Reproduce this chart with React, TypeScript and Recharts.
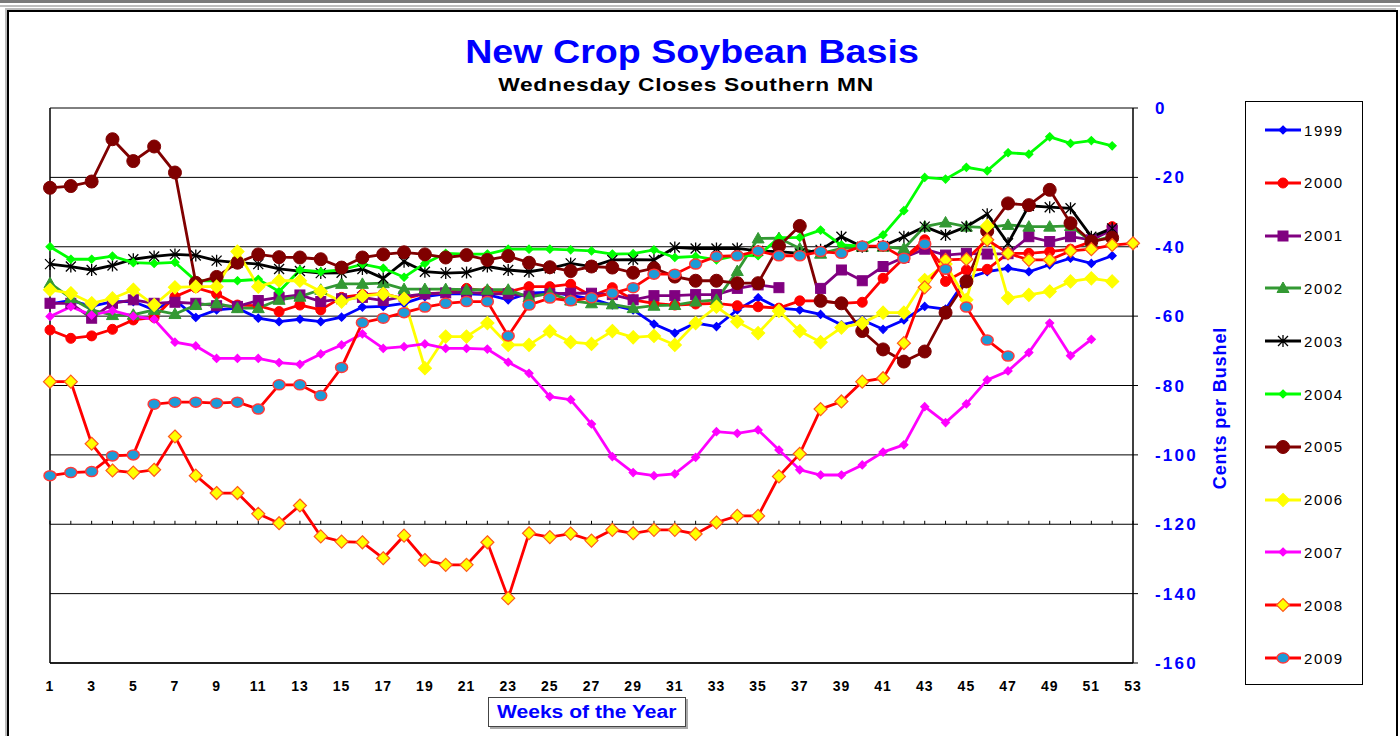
import React from "react"
import { LineChart, Line, XAxis, YAxis, CartesianGrid, ReferenceLine } from "recharts"

// weeks of the year (x categories)
const weeks = [
  1, 2, 3, 4, 5, 6, 7, 8, 9, 10, 11, 12, 13, 14, 15, 16, 17, 18, 19, 20, 21, 22, 23, 24, 25, 26,
  27, 28, 29, 30, 31, 32, 33, 34, 35, 36, 37, 38, 39, 40, 41, 42, 43, 44, 45, 46, 47, 48, 49, 50, 51, 52, 53,
]
const xTicks = [1, 3, 5, 7, 9, 11, 13, 15, 17, 19, 21, 23, 25, 27, 29, 31, 33, 35, 37, 39, 41, 43, 45, 47, 49, 51, 53]
const yTicks = [0, -20, -40, -60, -80, -100, -120, -140, -160]

// basis, cents per bushel, one value per week
const y1999 = [-56.5, -55.5, -57.2, -55.8, -55.8, -58.2, -55.3, -60.4, -58.2, -57.7, -60.6, -61.6, -60.9, -61.6, -60.3, -57.4, -57.2, -56.3, -54.4, -53.6, -53.6, -53.8, -55.3, -53.4, -53.1, -54, -55, -56.8, -58.2, -62.3, -64.9, -62, -63, -58.2, -54.7, -57.7, -58.2, -59.5, -62.5, -61.1, -63.8, -61.1, -57.2, -58, -49.1, -47.2, -46.2, -47.2, -45.2, -43.3, -44.8, -42.6, null]
const y2000 = [-64, -66.4, -65.7, -63.8, -61.1, -60.4, -54.4, -51.8, -53.6, -56.8, -57, -58.7, -56.8, -58.2, -54.6, -53.8, -53.5, -55, -53.5, -53.3, -52, -52.8, -53, -51.5, -51.5, -50.8, -54.2, -51.8, -55.3, -56.3, -56.8, -56.5, -56.3, -57, -57.3, -57.7, -55.6, -55.6, -56.3, -56, -49.1, -43.3, -38, -50, -46.7, -46.5, -41.9, -41.9, -41.4, -40.7, -38.5, -34.2, null]
const y2001 = [-56.3, -56.3, -60.6, -56.3, -55.3, -56.3, -56, -56.3, -57, -57.2, -55.5, -54.6, -53.9, -55.8, -55, -54.6, -55.5, -54.3, -53.6, -53.3, -53.1, -53.6, -53.6, -54.2, -53.6, -53.4, -53.4, -53.8, -55.3, -54.1, -54.1, -53.8, -53.8, -52, -51, -51.8, null, -52, -46.7, -49.8, -45.7, -43.1, -40.7, -42.4, -41.9, -42.1, -42, -37.1, -38.5, -37.1, -38, -35.2, null]
const y2002 = [-50.5, -54.8, -58.2, -59.7, -59.6, -58.2, -59.4, -56.8, -56.3, -57.7, -57.7, -55.3, -54.4, -52.4, -50.7, -50.7, -50.5, -52.2, -52.2, -52.2, -52.4, -52.4, -52.4, -54.6, -53.4, -55.5, -56.3, -56.6, -57.7, -57, -56.8, -55.8, -55.3, -47, -37.6, -37.5, -40.5, -42, -40.5, -40, -40, -40.5, -34.2, -33, -34.2, -34.5, -33.7, -34.2, -34.2, -34, -38.5, -37, null]
const y2003 = [-45, -45.7, -46.7, -45.4, -43.6, -42.8, -42.2, -42.5, -44, -44.6, -45, -46.4, -47, -47.6, -47.5, -46.4, -49.1, -44.3, -47.2, -47.6, -47.4, -45.7, -46.7, -47.2, -46.2, -44.8, -45.7, -43.8, -43.7, -43.8, -40.2, -40.5, -40.5, -40.5, -41.2, -41.4, -41.9, -40.9, -37.1, -40, -39.8, -37.1, -34.2, -36.6, -34.2, -30.6, -39, -28.2, -28.6, -28.9, -37.1, -34.7, null]
const y2004 = [-40, -43.6, -43.6, -42.7, -44.6, -44.8, -44.5, -49.8, -49.8, -49.8, -49.4, -52.9, -46.7, -47.2, -46.7, -45, -46.2, -48.8, -44.8, -41.9, -42.1, -42.1, -40.7, -40.7, -40.7, -40.9, -41.2, -42.1, -42, -40.9, -43.1, -42.8, -43.8, -42.5, -42.6, -37.4, -37.3, -35.2, -39.5, -39.8, -36.6, -29.6, -20, -20.5, -17.1, -18.1, -12.9, -13.3, -8.3, -10.2, -9.4, -10.9, null]
const y2005 = [-23, -22.5, -21.2, -9, -15.3, -11.1, -18.6, -50.4, -48.7, -44.6, -42.2, -43, -43.1, -43.6, -46, -43.1, -42.2, -41.6, -42.2, -43.1, -42.4, -43.8, -42.7, -44.6, -45.9, -47, -45.7, -46, -47.5, -46.2, -48.6, -49.8, -49.8, -50.5, -50.5, -39.8, -34, -55.6, -56.3, -64.3, -69.6, -73.1, -70.2, -59, -50, -35.5, -27.5, -28, -23.6, -33.2, -38.5, -37.4, null]
const y2006 = [-52.4, -53.4, -56.3, -54.9, -52.4, -56.8, -51.7, -51.5, -51.5, -41.4, -51.5, -49.8, -49.8, -52.9, -55.8, -54.2, -53.6, -55, -75, -65.9, -65.9, -62, -68.3, -68.3, -64.4, -67.5, -68, -64.3, -66.1, -65.7, -68.3, -62, -57.3, -61.6, -64.9, -58.5, -64.3, -67.5, -63.3, -62, -59, -59, -49.6, -45, -55.3, -34, -54.8, -53.9, -52.9, -50, -49.1, -50, null]
const y2007 = [-60.1, -57.3, -59.7, -58.4, -60, -60.9, -67.5, -68.6, -72.2, -72.2, -72.2, -73.4, -73.9, -70.9, -68.3, -65.1, -69.3, -68.8, -68, -69.3, -69.3, -69.5, -73.3, -76.5, -83.2, -84.1, -91.1, -100.5, -105.1, -106, -105.5, -100.7, -93.3, -93.8, -92.8, -98.6, -104.3, -105.8, -105.8, -102.9, -99.2, -97.1, -86.1, -90.7, -85.3, -78.4, -75.8, -70.5, -62, -71.4, -66.7, null, null]
const y2008 = [-78.9, -78.9, -96.8, -104.5, -105.1, -104.3, -94.7, -106, -111, -111, -117, -119.7, -114.6, -123.5, -125, -125.2, -129.8, -123.3, -130.3, -131.7, -131.7, -125.2, -141.3, -122.6, -123.7, -122.7, -124.7, -121.6, -122.6, -121.6, -121.6, -122.8, -119.5, -117.6, -117.6, -106.2, -99.7, -86.8, -84.6, -78.9, -77.9, -67.8, -51.7, -43.8, -43.6, -38, -41.9, -43.8, -43.8, -41.2, -40.7, -39.5, -39]
const y2009 = [-106, -105.1, -104.8, -100.3, -100, -85.4, -84.8, -84.8, -85.1, -84.8, -86.8, -79.8, -79.8, -82.9, -74.8, -61.9, -60.6, -59, -57.4, -56.3, -55.8, -55.8, -65.7, -56.8, -54.8, -55.6, -54.7, -53.4, -51.8, -47.9, -47.9, -45, -42.8, -42.6, -41.2, -42.6, -42.6, -41.4, -41.9, -39.8, -39.8, -43.3, -39.2, -46.5, -57.4, -66.9, -71.5, null, null, null, null, null, null]

type Marker = "diamond" | "circle" | "square" | "triangle" | "star" | "ellipse"

interface Series {
  name: string
  values: (number | null)[]
  color: string
  marker: Marker
  size: number
  fill: string
  edge: string
}

const series: Series[] = [
  { name: "1999", values: y1999, color: "#0000FF", marker: "diamond", size: 4, fill: "#0000FF", edge: "#0000FF" },
  { name: "2000", values: y2000, color: "#FF0000", marker: "circle", size: 5, fill: "#FF0000", edge: "#FF0000" },
  { name: "2001", values: y2001, color: "#800080", marker: "square", size: 5, fill: "#800080", edge: "#800080" },
  { name: "2002", values: y2002, color: "#339933", marker: "triangle", size: 6, fill: "#339933", edge: "#339933" },
  { name: "2003", values: y2003, color: "#000000", marker: "star", size: 5, fill: "none", edge: "#000000" },
  { name: "2004", values: y2004, color: "#00FF00", marker: "diamond", size: 4, fill: "#00FF00", edge: "#00FF00" },
  { name: "2005", values: y2005, color: "#800000", marker: "circle", size: 6.5, fill: "#800000", edge: "#800000" },
  { name: "2006", values: y2006, color: "#FFFF00", marker: "diamond", size: 6.5, fill: "#FFFF00", edge: "#FFFF00" },
  { name: "2007", values: y2007, color: "#FF00FF", marker: "diamond", size: 4, fill: "#FF00FF", edge: "#FF00FF" },
  { name: "2008", values: y2008, color: "#FF0000", marker: "diamond", size: 6.5, fill: "#FFFF00", edge: "#FF5a1a" },
  { name: "2009", values: y2009, color: "#FF0000", marker: "ellipse", size: 6, fill: "#1E9BD7", edge: "#FF3a3a" },
]

const data = weeks.map((w, i) => {
  const row: Record<string, number | null> = { week: w }
  series.forEach((s) => {
    row["y" + s.name] = s.values[i] ?? null
  })
  return row
})

const FONT = "'Liberation Sans', Arial, sans-serif"

function shape(kind: Marker, cx: number, cy: number, r: number, fill: string, edge: string) {
  switch (kind) {
    case "diamond":
      return <path d={`M${cx},${cy - r}L${cx + r},${cy}L${cx},${cy + r}L${cx - r},${cy}Z`} fill={fill} stroke={edge} strokeWidth={1.2} />
    case "circle":
      return <circle cx={cx} cy={cy} r={r} fill={fill} stroke={edge} strokeWidth={1} />
    case "ellipse":
      return <ellipse cx={cx} cy={cy} rx={r} ry={r - 1} fill={fill} stroke={edge} strokeWidth={1.5} />
    case "square":
      return <rect x={cx - r} y={cy - r} width={r * 2} height={r * 2} fill={fill} stroke={edge} />
    case "triangle":
      return <path d={`M${cx},${cy - r}L${cx + r},${cy + r * 0.75}L${cx - r},${cy + r * 0.75}Z`} fill={fill} stroke={edge} />
    case "star":
      return (
        <path
          d={`M${cx - r},${cy - r}L${cx + r},${cy + r}M${cx - r},${cy + r}L${cx + r},${cy - r}M${cx},${cy - r - 1}L${cx},${cy + r + 1}`}
          stroke={edge}
          strokeWidth={1.3}
          fill="none"
        />
      )
  }
}

function makeDot(s: Series) {
  return (p: any) => {
    const key = `dot-${s.name}-${p.index}`
    if (p.value == null || p.cx == null || p.cy == null) return <g key={key} />
    return <g key={key}>{shape(s.marker, p.cx, p.cy, s.size, s.fill, s.edge)}</g>
  }
}

function LegendBox() {
  return (
    <div
      style={{
        position: "absolute",
        left: 1245,
        top: 101,
        width: 116,
        height: 582,
        border: "1px solid #000",
        background: "#fff",
      }}
    >
      {series.map((s, i) => (
        <div
          key={s.name}
          style={{ position: "absolute", left: 17, top: 19 + i * 52.8, height: 18, display: "flex", alignItems: "center" }}
        >
          <svg width={40} height={18}>
            <line x1={2} y1={9} x2={38} y2={9} stroke={s.color} strokeWidth={3} />
            {shape(s.marker, 20, 9, s.size, s.fill, s.edge)}
          </svg>
          <span style={{ fontFamily: FONT, fontSize: 15, color: "#000", letterSpacing: 1.6, marginLeft: 1 }}>{s.name}</span>
        </div>
      ))}
    </div>
  )
}

export default function App() {
  return (
    <div style={{ position: "absolute", left: 0, top: 0, width: 1400, height: 736, overflow: "hidden", background: "#fff" }}>
      <div style={{ position: "absolute", left: 0, top: 0, width: 1400, height: 3, background: "#7a7a7a" }} />
      <div style={{ position: "absolute", left: 0, top: 5, width: 1400, height: 2, background: "#bdbdbd" }} />
      <div
        style={{
          position: "absolute",
          left: 7,
          top: 10,
          width: 1387,
          height: 740,
          border: "2px solid #000",
          boxShadow: "-2px -2px 0 #bbb",
        }}
      />

      <div
        style={{
          position: "absolute",
          left: 0,
          width: 1384,
          top: 33,
          textAlign: "center",
          fontFamily: FONT,
          fontWeight: 700,
          fontSize: 33,
          color: "#0000FF",
          transform: "scaleX(1.14)",
          transformOrigin: "692px 0",
        }}
      >
        New Crop Soybean Basis
      </div>
      <div
        style={{
          position: "absolute",
          left: 0,
          width: 1372,
          top: 74,
          textAlign: "center",
          fontFamily: FONT,
          fontWeight: 700,
          fontSize: 19,
          color: "#000",
          letterSpacing: 0.6,
          transform: "scaleX(1.2)",
          transformOrigin: "686px 0",
        }}
      >
        Wednesday Closes Southern MN
      </div>

      <div style={{ position: "absolute", left: 0, top: 0 }}>
        <LineChart width={1400} height={736} data={data} margin={{ top: 108, right: 160, bottom: 33, left: 50 }}>
          <CartesianGrid vertical={false} stroke="#000" strokeWidth={1} />
          <XAxis
            dataKey="week"
            type="number"
            domain={[1, 53]}
            ticks={xTicks}
            interval={0}
            height={40}
            tickLine={false}
            axisLine={{ stroke: "#000", strokeWidth: 1.5 }}
            tickSize={6}
            tickMargin={12}
            tick={{ fill: "#000", fontSize: 14, fontWeight: 700, fontFamily: FONT, letterSpacing: 1 }}
          />
          <YAxis
            orientation="right"
            domain={[-160, 0]}
            ticks={yTicks}
            interval={0}
            width={107}
            axisLine={{ stroke: "#000", strokeWidth: 1.5 }}
            tickLine={{ stroke: "#000" }}
            tickSize={5}
            tickMargin={17}
            tick={{ fill: "#0000FF", fontSize: 17, fontWeight: 700, fontFamily: FONT, textAnchor: "start", letterSpacing: 2.2 }}
          />
          <ReferenceLine x={1} stroke="#000" strokeWidth={1.5} />
          {weeks.map((w) => (
            <ReferenceLine
              key={"t" + w}
              segment={[
                { x: w, y: -120 },
                { x: w, y: -119 },
              ]}
              stroke="#000"
              strokeWidth={1}
            />
          ))}
          {series.map((s) => (
            <Line
              key={s.name}
              type="linear"
              dataKey={"y" + s.name}
              name={s.name}
              stroke={s.color}
              strokeWidth={2.8}
              dot={makeDot(s)}
              activeDot={false}
              connectNulls={false}
              isAnimationActive={false}
            />
          ))}
        </LineChart>
      </div>

      <div
        style={{
          position: "absolute",
          left: 1220 - 90,
          top: 408 - 10,
          width: 180,
          height: 20,
          transform: "rotate(-90deg)",
          textAlign: "center",
          fontFamily: FONT,
          fontWeight: 700,
          fontSize: 18,
          letterSpacing: 0.9,
          color: "#0000FF",
          lineHeight: "20px",
        }}
      >
        Cents per Bushel
      </div>

      <LegendBox />

      <div
        style={{
          position: "absolute",
          left: 488,
          top: 697,
          width: 196,
          height: 28,
          border: "1px solid #444",
          boxShadow: "2px 2px 0 #aaa",
          background: "#fff",
          textAlign: "center",
          lineHeight: "28px",
          fontFamily: FONT,
          fontWeight: 700,
          fontSize: 18,
          color: "#0000FF",
        }}
      >
        <span style={{ display: "inline-block", transform: "scaleX(1.17)" }}>Weeks of the Year</span>
      </div>
    </div>
  )
}
